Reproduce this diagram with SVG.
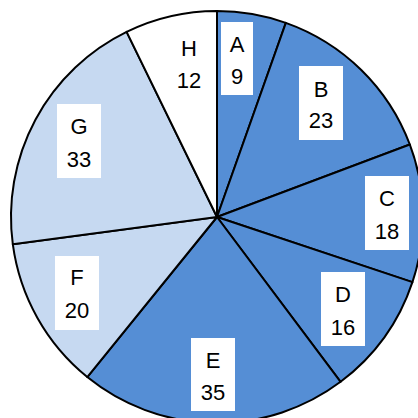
<svg xmlns="http://www.w3.org/2000/svg" width="418" height="418" viewBox="0 0 418 418">
<style>
.s{stroke:#000;stroke-width:2;stroke-linejoin:round}
.d{fill:#558ED5}
.l{fill:#C6D9F1}
.w{fill:#FFFFFF}
.b{fill:#FFFFFF}
text{font-family:"Liberation Sans",Arial,sans-serif;font-size:22px;fill:#000;text-anchor:middle}
</style>
<rect width="418" height="418" fill="#FFFFFF"/>
<g id="slices">
<path id="slice-A" class="s d" d="M217,217 L217,11 A206,206 0 0 1 285.83,22.84 Z"/>
<path id="slice-B" class="s d" d="M217,217 L285.83,22.84 A206,206 0 0 1 409.83,144.52 Z"/>
<path id="slice-C" class="s d" d="M217,217 L409.83,144.52 A206,206 0 0 1 412.43,282.14 Z"/>
<path id="slice-D" class="s d" d="M217,217 L412.43,282.14 A206,206 0 0 1 340.58,381.81 Z"/>
<path id="slice-E" class="s d" d="M217,217 L340.58,381.81 A206,206 0 0 1 87.26,377.01 Z"/>
<path id="slice-F" class="s l" d="M217,217 L87.26,377.01 A206,206 0 0 1 12.80,244.20 Z"/>
<path id="slice-G" class="s l" d="M217,217 L12.80,244.20 A206,206 0 0 1 126.62,31.88 Z"/>
<path id="slice-H" class="s w" d="M217,217 L126.62,31.88 A206,206 0 0 1 217,11 Z"/>
</g>
<g id="label-A"><rect class="b" x="221" y="22" width="32" height="73"/><text x="237" y="52">A</text><text x="237" y="84">9</text></g>
<g id="label-B"><rect class="b" x="299" y="66" width="44" height="74"/><text x="321" y="97">B</text><text x="321" y="128">23</text></g>
<g id="label-C"><rect class="b" x="365" y="176" width="44" height="74"/><text x="387" y="206">C</text><text x="387" y="239">18</text></g>
<g id="label-D"><rect class="b" x="321" y="272" width="44" height="74"/><text x="343" y="302">D</text><text x="343" y="335">16</text></g>
<g id="label-E"><rect class="b" x="191" y="338" width="44" height="73"/><text x="213" y="368">E</text><text x="213" y="400">35</text></g>
<g id="label-F"><rect class="b" x="55" y="256" width="44" height="74"/><text x="77" y="285">F</text><text x="77" y="318">20</text></g>
<g id="label-G"><rect class="b" x="57" y="104" width="44" height="74"/><text x="79" y="134">G</text><text x="79" y="167">33</text></g>
<g id="label-H"><text x="189" y="56">H</text><text x="189" y="88">12</text></g>
</svg>
